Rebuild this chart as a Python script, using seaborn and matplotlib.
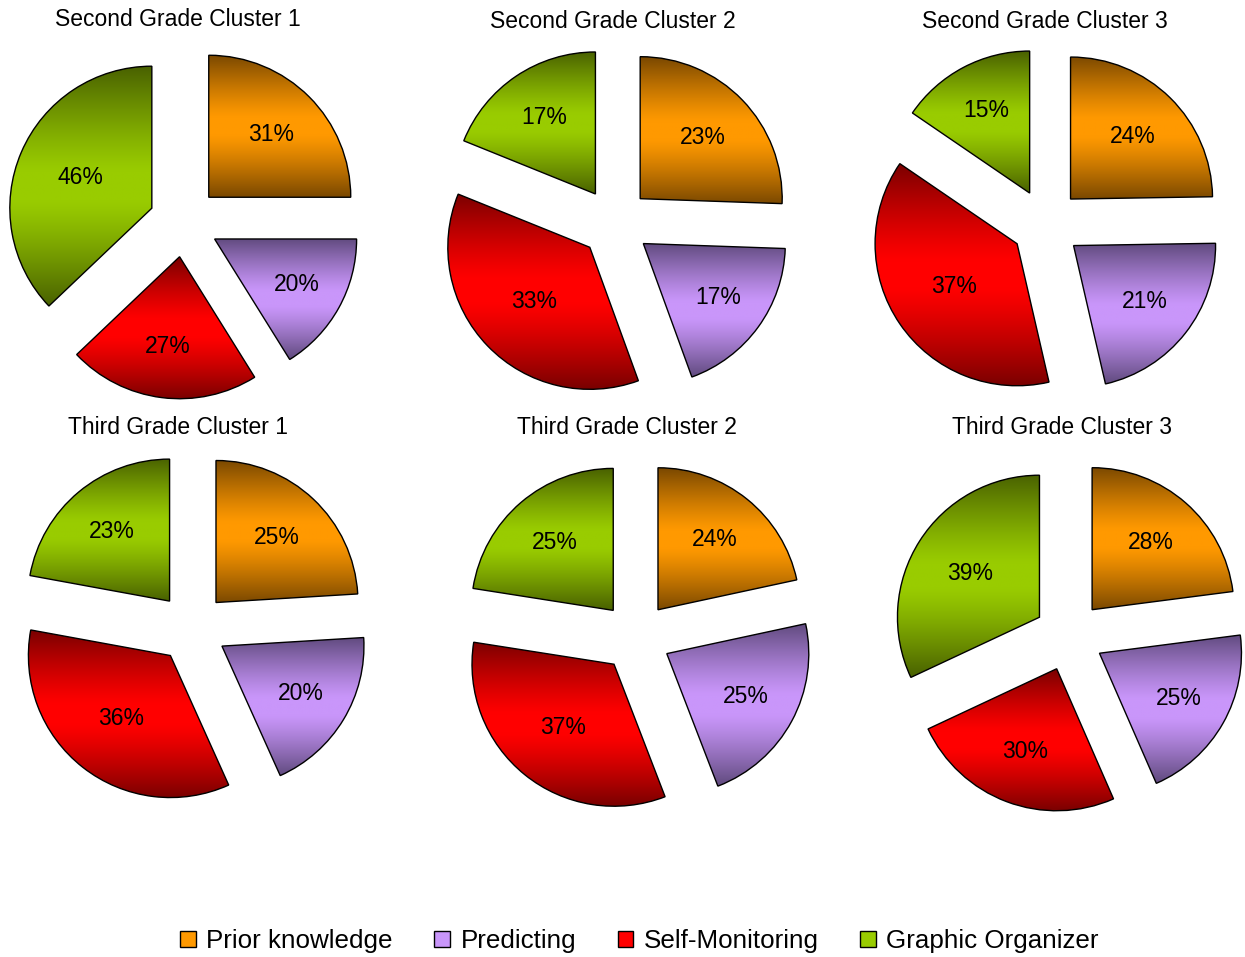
import numpy as np
import matplotlib
matplotlib.use("Agg")
import matplotlib.pyplot as plt
import seaborn as sns
from matplotlib.patches import Patch
from matplotlib.colors import to_rgb

sns.set_theme(style="white")
plt.rcParams["font.family"] = ["Liberation Sans", "DejaVu Sans"]
plt.rcParams["text.color"] = "black"

# data
categories = ["Prior knowledge", "Predicting", "Self-Monitoring", "Graphic Organizer"]
panel_titles = [
    "Second Grade Cluster 1", "Second Grade Cluster 2", "Second Grade Cluster 3",
    "Third Grade Cluster 1", "Third Grade Cluster 2", "Third Grade Cluster 3",
]
prior_knowledge = [31, 23, 24, 25, 24, 28]
predicting = [20, 17, 21, 20, 25, 25]
self_monitoring = [27, 33, 37, 36, 37, 30]
graphic_organizer = [46, 17, 15, 23, 25, 39]

mid_colors = ["#FF9900", "#C996FA", "#FF0000", "#99CC00"]
dark_colors = ["#7A4800", "#604A7E", "#7A0000", "#496100"]

# layout (pixels, y from top)
W, H = 1245, 957
pie_centers = [(184, 222), (615, 223), (1046, 224), (192, 628), (636, 637), (1069, 636)]
title_pos = [(178, 20), (613, 21), (1045, 21), (178, 428), (627, 428), (1062, 428)]
R = 142
half = 210
explode_px = 35


def gradient_img(mid, dark, n=256):
    s = np.abs(np.linspace(-1, 1, n))
    t = np.clip((s - 0.12) / 0.88, 0, 1) ** 1.2
    mid, dark = np.array(to_rgb(mid)), np.array(to_rgb(dark))
    cols = mid[None, :] * (1 - t[:, None]) + dark[None, :] * t[:, None]
    return cols[:, None, :]


fig = plt.figure(figsize=(W / 100, H / 100), dpi=100)

for i, title in enumerate(panel_titles):
    cx, cy = pie_centers[i]
    ax = fig.add_axes([(cx - half) / W, 1 - (cy + half) / H, 2 * half / W, 2 * half / H])
    vals = [prior_knowledge[i], predicting[i], self_monitoring[i], graphic_organizer[i]]
    total = sum(vals)
    wedges, texts, autotexts = ax.pie(
        vals,
        explode=[explode_px / R] * 4,
        startangle=90,
        counterclock=False,
        radius=1,
        autopct=lambda p, tot=total: f"{p * tot / 100:.0f}%",
        textprops=dict(fontsize=16.5, color="black"),
        wedgeprops=dict(edgecolor="black", linewidth=1.0),
    )
    for j, w in enumerate(wedges):
        w.set_facecolor("none")
        ext = w.get_path().get_extents()
        img = ax.imshow(
            gradient_img(mid_colors[j], dark_colors[j]),
            extent=(ext.x0, ext.x1, ext.y0, ext.y1),
            origin="upper", aspect="auto", interpolation="bilinear", zorder=0,
        )
        img.set_clip_path(w)
        # label at the sector centroid
        a = np.deg2rad(abs(w.theta2 - w.theta1)) / 2
        tm = np.deg2rad((w.theta1 + w.theta2) / 2)
        d = 2 / 3 * np.sin(a) / a + 0.02
        autotexts[j].set_position((w.center[0] + d * np.cos(tm), w.center[1] + d * np.sin(tm)))
    ax.set_xlim(-half / R, half / R)
    ax.set_ylim(-half / R, half / R)
    ax.set_aspect("equal")
    ax.axis("off")

    tx, ty = title_pos[i]
    fig.text(tx / W, 1 - ty / H, title, ha="center", va="center", fontsize=16.5, color="black")

handles = [Patch(facecolor=c, edgecolor="black", linewidth=1) for c in mid_colors]
fig.legend(
    handles, categories, loc="center", bbox_to_anchor=(0.5137, 1 - 941 / H),
    ncol=4, frameon=False, fontsize=18.7, handlelength=0.6, handleheight=0.6,
    handletextpad=0.4, columnspacing=1.6, labelcolor="black",
)

fig.savefig("out.png", dpi=100)
